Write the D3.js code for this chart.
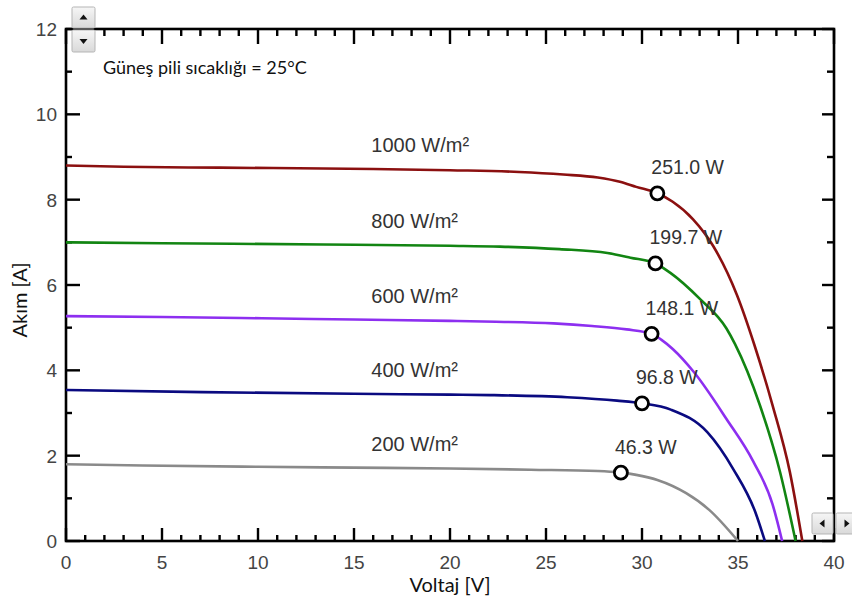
<!DOCTYPE html>
<html>
<head>
<meta charset="utf-8">
<script src="https://cdn.jsdelivr.net/npm/d3@7"></script>
<style>
  html, body { margin: 0; padding: 0; background: #fff; }
  svg { display: block; }
</style>
</head>
<body>
<svg id="chart" width="852" height="603"></svg>
<script>
// I-V characteristics of a PV module at different irradiance levels (25°C)
const irradianceLabels = ["1000 W/m²", "800 W/m²", "600 W/m²", "400 W/m²", "200 W/m²"];
const seriesColors = ["#8b1010", "#128512", "#8d2ff0", "#0a0a80", "#8a8a8a"];

// [voltage V, current A]
const curve1000 = [[0,8.80],[3,8.77],[8,8.75],[16,8.72],[20,8.69],[23.6,8.65],[25.9,8.59],[27.7,8.52],[28.85,8.42],[29.7,8.30],[30.8,8.15],[31.6,7.95],[32.66,7.54],[33.7,6.92],[34.95,5.76],[35.85,4.60],[36.8,3.18],[37.7,1.62],[38.35,0]];
const curve800  = [[0,7.00],[5,6.98],[13.4,6.95],[20,6.92],[22.6,6.90],[25.7,6.84],[28.2,6.75],[29.4,6.64],[30.7,6.505],[31.46,6.29],[33.0,5.68],[34.4,4.98],[34.84,4.62],[36.15,3.17],[37.2,1.60],[38.0,0]];
const curve600  = [[0,5.27],[5,5.25],[10.2,5.22],[15,5.19],[20,5.16],[22.4,5.14],[25.4,5.10],[27.4,5.04],[29.2,4.96],[30.5,4.856],[31.0,4.72],[31.6,4.50],[32.7,3.96],[34.4,2.86],[35.8,1.86],[36.8,0.86],[37.3,0]];
const curve400  = [[0,3.54],[7.1,3.49],[15,3.45],[20,3.43],[22.1,3.42],[26.1,3.37],[28.7,3.29],[30.0,3.227],[31.5,3.08],[33.4,2.55],[34.76,1.68],[35.9,0.68],[36.4,0]];
const curve200  = [[0,1.80],[4,1.77],[10,1.74],[15,1.72],[20,1.70],[24.2,1.67],[27.7,1.64],[28.9,1.602],[29.7,1.55],[30.8,1.43],[32.3,1.12],[33.5,0.73],[35.0,0]];
const curves = [curve1000, curve800, curve600, curve400, curve200];

// maximum power points
const mppVoltage = [30.8, 30.7, 30.5, 30.0, 28.9];
const mppPower = [251.0, 199.7, 148.1, 96.8, 46.3];

const xTicksMajor = [0, 5, 10, 15, 20, 25, 30, 35, 40];
const yTicksMajor = [0, 2, 4, 6, 8, 10, 12];

const svg = d3.select("#chart");
const plotLeft = 66, plotRight = 834, plotTop = 29, plotBottom = 541;

const x = d3.scaleLinear().domain([0, 40]).range([plotLeft, plotRight]);
const y = d3.scaleLinear().domain([0, 12]).range([plotBottom, plotTop]);

svg.append("rect").attr("width", 852).attr("height", 603).attr("fill", "#fff");

const tickFont = "'Liberation Sans', Arial, sans-serif";

// frame
svg.append("rect")
  .attr("x", plotLeft).attr("y", plotTop).attr("width", plotRight - plotLeft).attr("height", plotBottom - plotTop)
  .attr("fill", "none").attr("stroke", "#000").attr("stroke-width", 2.6);

// inward-pointing ticks on all four sides; major ticks are longer
const xMinor = d3.range(0, 41), yMinor = d3.range(0, 13);
const isMajorX = d => xTicksMajor.indexOf(d) >= 0;
const isMajorY = d => yTicksMajor.indexOf(d) >= 0;
const tickW = 2.4;
const ticksG = svg.append("g").attr("fill", "#000");
ticksG.selectAll(".tb").data(xMinor).join("rect").attr("class", "tb")
  .attr("x", d => x(d) - tickW / 2).attr("width", tickW)
  .attr("y", d => plotBottom - (isMajorX(d) ? 13 : 6)).attr("height", d => isMajorX(d) ? 13 : 6);
ticksG.selectAll(".tt").data(xMinor).join("rect").attr("class", "tt")
  .attr("x", d => x(d) - tickW / 2).attr("width", tickW)
  .attr("y", plotTop).attr("height", d => isMajorX(d) ? 15 : 7);
ticksG.selectAll(".tl").data(yMinor).join("rect").attr("class", "tl")
  .attr("y", d => y(d) - tickW / 2).attr("height", tickW)
  .attr("x", plotLeft).attr("width", d => isMajorY(d) ? 14 : 6);
ticksG.selectAll(".tr").data(yMinor).join("rect").attr("class", "tr")
  .attr("y", d => y(d) - tickW / 2).attr("height", tickW)
  .attr("x", d => plotRight - (isMajorY(d) ? 12 : 7)).attr("width", d => isMajorY(d) ? 12 : 7);

// tick labels
svg.append("g").selectAll("text").data(xTicksMajor).join("text")
  .attr("x", d => x(d)).attr("y", plotBottom + 28)
  .attr("text-anchor", "middle")
  .style("font-family", tickFont).style("font-size", "19px").attr("fill", "#444")
  .text(d => d);
svg.append("g").selectAll("text").data(yTicksMajor).join("text")
  .attr("x", plotLeft - 9).attr("y", d => y(d) + 7)
  .attr("text-anchor", "end")
  .style("font-family", tickFont).style("font-size", "19px").attr("fill", "#444")
  .text(d => d);

// curves
const ivLine = d3.line().x(d => x(d[0])).y(d => y(d[1])).curve(d3.curveMonotoneX);
svg.append("g").selectAll("path").data(curves).join("path")
  .attr("d", ivLine)
  .attr("fill", "none")
  .attr("stroke", (d, i) => seriesColors[i])
  .attr("stroke-width", 2.6);

// irradiance labels, placed above each curve
svg.append("g").selectAll("text").data(curves).join("text")
  .attr("x", x(15.9))
  .attr("y", d => y(d3.scaleLinear().domain(d.map(p => p[0])).range(d.map(p => p[1]))(16)) - 17)
  .style("font-family", tickFont).style("font-size", "20px").attr("fill", "#333")
  .text((d, i) => irradianceLabels[i]);

// maximum power point markers and their power labels
const mpp = mppVoltage.map((v, i) => ({ v, i: mppPower[i] / v, p: mppPower[i] }));
svg.append("g").selectAll("circle").data(mpp).join("circle")
  .attr("cx", d => x(d.v)).attr("cy", d => y(d.i)).attr("r", 6.5)
  .attr("fill", "#fff").attr("stroke", "#000").attr("stroke-width", 2.8);
svg.append("g").selectAll("text").data(mpp).join("text")
  .attr("x", d => x(d.v) - 6).attr("y", d => y(d.i) - 19)
  .style("font-family", tickFont).style("font-size", "19.5px").attr("fill", "#333")
  .text(d => d.p.toFixed(1) + " W");

// axis titles and annotation
const titleFont = "Lato, 'Open Sans', sans-serif";
svg.append("text")
  .attr("x", 450).attr("y", 592).attr("text-anchor", "middle")
  .style("font-family", titleFont).style("font-size", "20px").attr("fill", "#111")
  .text("Voltaj [V]");
svg.append("text")
  .attr("transform", "translate(27,300) rotate(-90)").attr("text-anchor", "middle")
  .style("font-family", titleFont).style("font-size", "20px").attr("fill", "#111")
  .text("Akım [A]");
svg.append("text")
  .attr("x", 103).attr("y", 74)
  .style("font-family", titleFont).style("font-size", "18px").attr("fill", "#111")
  .text("Güneş pili sıcaklığı = 25°C");

// scroll buttons of the plot window
const grad = svg.append("defs").append("linearGradient")
  .attr("id", "btn").attr("x1", 0).attr("y1", 0).attr("x2", 0).attr("y2", 1);
grad.append("stop").attr("offset", "0%").attr("stop-color", "#f6f6f6");
grad.append("stop").attr("offset", "100%").attr("stop-color", "#d9d9d9");

function scrollButton(bx, by, w, h, dir) {
  const g = svg.append("g").attr("transform", `translate(${bx},${by})`);
  g.append("rect").attr("width", w).attr("height", h).attr("rx", 1.5)
    .attr("fill", "url(#btn)").attr("stroke", "#b5b5b5").attr("stroke-width", 1);
  const cx = w / 2, cy = h / 2, s = 4;
  const pts = {
    up: [[cx - s, cy + s / 2], [cx + s, cy + s / 2], [cx, cy - s / 2 - 1]],
    down: [[cx - s, cy - s / 2], [cx + s, cy - s / 2], [cx, cy + s / 2 + 1]],
    left: [[cx + s / 2, cy - s], [cx + s / 2, cy + s], [cx - s / 2 - 1, cy]],
    right: [[cx - s / 2, cy - s], [cx - s / 2, cy + s], [cx + s / 2 + 1, cy]]
  }[dir];
  g.append("path").attr("d", d3.line()(pts) + "Z").attr("fill", "#111");
}
scrollButton(72, 7, 23, 21, "up");
scrollButton(72, 30, 23, 22, "down");
scrollButton(812, 513, 21, 21, "left");
scrollButton(836, 513, 21, 21, "right");
</script>
</body>
</html>
